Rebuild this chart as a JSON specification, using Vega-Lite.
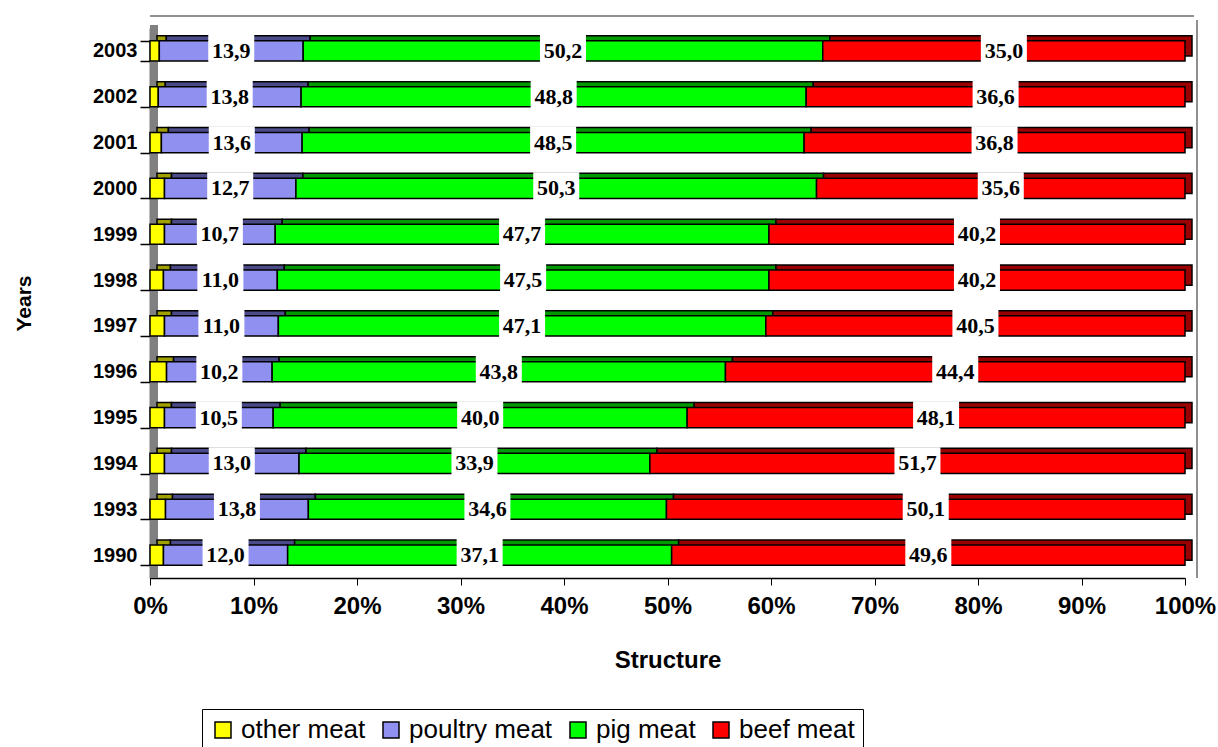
{
  "$schema": "https://vega.github.io/schema/vega-lite/v6.json",
  "width": 1035,
  "height": 550,
  "autosize": "none",
  "padding": {"left": 150, "top": 28, "right": 33, "bottom": 169},
  "background": "white",
  "config": {
    "locale": {"number": {"decimal": ",", "thousands": ".", "grouping": [3], "currency": ["", " €"]}},
    "view": {"stroke": null},
    "font": "Liberation Sans"
  },
  "data": {
    "values": [
      {"year": "2003", "meat": "other meat", "ord": 1, "value": 0.9},
      {"year": "2003", "meat": "poultry meat", "ord": 2, "value": 13.9},
      {"year": "2003", "meat": "pig meat", "ord": 3, "value": 50.2},
      {"year": "2003", "meat": "beef meat", "ord": 4, "value": 35.0},
      {"year": "2002", "meat": "other meat", "ord": 1, "value": 0.8},
      {"year": "2002", "meat": "poultry meat", "ord": 2, "value": 13.8},
      {"year": "2002", "meat": "pig meat", "ord": 3, "value": 48.8},
      {"year": "2002", "meat": "beef meat", "ord": 4, "value": 36.6},
      {"year": "2001", "meat": "other meat", "ord": 1, "value": 1.1},
      {"year": "2001", "meat": "poultry meat", "ord": 2, "value": 13.6},
      {"year": "2001", "meat": "pig meat", "ord": 3, "value": 48.5},
      {"year": "2001", "meat": "beef meat", "ord": 4, "value": 36.8},
      {"year": "2000", "meat": "other meat", "ord": 1, "value": 1.4},
      {"year": "2000", "meat": "poultry meat", "ord": 2, "value": 12.7},
      {"year": "2000", "meat": "pig meat", "ord": 3, "value": 50.3},
      {"year": "2000", "meat": "beef meat", "ord": 4, "value": 35.6},
      {"year": "1999", "meat": "other meat", "ord": 1, "value": 1.4},
      {"year": "1999", "meat": "poultry meat", "ord": 2, "value": 10.7},
      {"year": "1999", "meat": "pig meat", "ord": 3, "value": 47.7},
      {"year": "1999", "meat": "beef meat", "ord": 4, "value": 40.2},
      {"year": "1998", "meat": "other meat", "ord": 1, "value": 1.3},
      {"year": "1998", "meat": "poultry meat", "ord": 2, "value": 11.0},
      {"year": "1998", "meat": "pig meat", "ord": 3, "value": 47.5},
      {"year": "1998", "meat": "beef meat", "ord": 4, "value": 40.2},
      {"year": "1997", "meat": "other meat", "ord": 1, "value": 1.4},
      {"year": "1997", "meat": "poultry meat", "ord": 2, "value": 11.0},
      {"year": "1997", "meat": "pig meat", "ord": 3, "value": 47.1},
      {"year": "1997", "meat": "beef meat", "ord": 4, "value": 40.5},
      {"year": "1996", "meat": "other meat", "ord": 1, "value": 1.6},
      {"year": "1996", "meat": "poultry meat", "ord": 2, "value": 10.2},
      {"year": "1996", "meat": "pig meat", "ord": 3, "value": 43.8},
      {"year": "1996", "meat": "beef meat", "ord": 4, "value": 44.4},
      {"year": "1995", "meat": "other meat", "ord": 1, "value": 1.4},
      {"year": "1995", "meat": "poultry meat", "ord": 2, "value": 10.5},
      {"year": "1995", "meat": "pig meat", "ord": 3, "value": 40.0},
      {"year": "1995", "meat": "beef meat", "ord": 4, "value": 48.1},
      {"year": "1994", "meat": "other meat", "ord": 1, "value": 1.4},
      {"year": "1994", "meat": "poultry meat", "ord": 2, "value": 13.0},
      {"year": "1994", "meat": "pig meat", "ord": 3, "value": 33.9},
      {"year": "1994", "meat": "beef meat", "ord": 4, "value": 51.7},
      {"year": "1993", "meat": "other meat", "ord": 1, "value": 1.5},
      {"year": "1993", "meat": "poultry meat", "ord": 2, "value": 13.8},
      {"year": "1993", "meat": "pig meat", "ord": 3, "value": 34.6},
      {"year": "1993", "meat": "beef meat", "ord": 4, "value": 50.1},
      {"year": "1990", "meat": "other meat", "ord": 1, "value": 1.3},
      {"year": "1990", "meat": "poultry meat", "ord": 2, "value": 12.0},
      {"year": "1990", "meat": "pig meat", "ord": 3, "value": 37.1},
      {"year": "1990", "meat": "beef meat", "ord": 4, "value": 49.6}
    ]
  },
  "layer": [
    {
      "mark": {"type": "rule", "stroke": "#808080", "strokeWidth": 8, "xOffset": 4, "yOffset": -3},
      "encoding": {"x": {"datum": 0, "type": "quantitative"}}
    },
    {
      "mark": {"type": "rule", "stroke": "#909090", "strokeWidth": 2, "xOffset": 12, "yOffset": -8},
      "encoding": {"x": {"datum": 100, "type": "quantitative"}}
    },
    {
      "mark": {"type": "rule", "stroke": "#909090", "strokeWidth": 2, "xOffset": 9, "yOffset": -35},
      "encoding": {"y": {"datum": "2003", "type": "ordinal"}}
    },
    {
      "mark": {"type": "bar", "xOffset": 7, "yOffset": -5, "stroke": "black", "strokeWidth": 1.5},
      "encoding": {
        "y": {"field": "year", "type": "ordinal", "sort": "descending"},
        "x": {"field": "value", "type": "quantitative", "stack": "zero", "scale": {"domain": [0, 100]}},
        "fill": {
          "field": "ord",
          "type": "ordinal",
          "scale": {
            "domain": [1, 2, 3, 4],
            "range": ["#A0A000", "#4B4B8A", "#009A00", "#9A0000"]
          },
          "legend": null
        },
        "order": {"field": "ord", "type": "quantitative"}
      }
    },
    {
      "mark": {"type": "bar", "stroke": "black", "strokeWidth": 1.5},
      "encoding": {
        "y": {
          "field": "year",
          "type": "ordinal",
          "sort": "descending",
          "scale": {"paddingInner": 0.56, "paddingOuter": 0.28},
          "axis": {
            "title": "Years",
            "titleFontSize": 21,
            "titleFontWeight": "bold",
            "titlePadding": 58,
            "labelFontSize": 20,
            "labelFontWeight": "bold",
            "labelColor": "black",
            "labelPadding": 3,
            "tickSize": 10,
            "tickWidth": 1.5,
            "tickBand": "extent",
            "tickColor": "black",
            "domainColor": "black",
            "domainWidth": 1.5
          }
        },
        "x": {
          "field": "value",
          "type": "quantitative",
          "stack": "zero",
          "scale": {"domain": [0, 100]},
          "axis": {
            "values": [0, 10, 20, 30, 40, 50, 60, 70, 80, 90, 100],
            "labelExpr": "datum.value + '%'",
            "labelFlush": false,
            "labelOverlap": false,
            "grid": false,
            "title": "Structure",
            "titleFontSize": 24,
            "titleFontWeight": "bold",
            "titlePadding": 30,
            "labelFontSize": 24,
            "labelFontWeight": "bold",
            "labelColor": "black",
            "labelPadding": 9,
            "tickSize": 7,
            "tickColor": "black",
            "domainColor": "black",
            "domainWidth": 1.5
          }
        },
        "color": {
          "field": "meat",
          "type": "nominal",
          "sort": ["other meat", "poultry meat", "pig meat", "beef meat"],
          "scale": {
            "domain": ["other meat", "poultry meat", "pig meat", "beef meat"],
            "range": ["#FFFF00", "#9090F0", "#00FF00", "#FF0000"]
          },
          "legend": {
            "title": null,
            "orient": "none",
            "direction": "horizontal",
            "legendX": 52,
            "legendY": 681,
            "symbolType": "square",
            "symbolSize": 256,
            "symbolStrokeColor": "black",
            "symbolStrokeWidth": 1.5,
            "symbolOpacity": 1,
            "labelFontSize": 26,
            "labelColor": "black",
            "labelOffset": 5,
            "columnPadding": 12,
            "padding": 8,
            "strokeColor": "black",
            "fillColor": "white"
          }
        },
        "order": {"field": "ord", "type": "quantitative"}
      }
    },
    {
      "mark": {"type": "point", "shape": "M-1,-0.62H1V0.62H-1Z", "size": 2116, "filled": true, "fill": "white", "strokeWidth": 0, "yOffset": -2},
      "encoding": {
        "y": {"field": "year", "type": "ordinal", "sort": "descending"},
        "x": {"field": "value", "type": "quantitative", "stack": "zero", "bandPosition": 0.5},
        "detail": {"field": "meat"},
        "order": {"field": "ord", "type": "quantitative"},
        "opacity": {"condition": {"test": "datum.meat === 'other meat'", "value": 0}, "value": 1}
      }
    },
    {
      "mark": {"type": "text", "font": "Liberation Serif", "fontWeight": "bold", "fontSize": 22, "fill": "black", "baseline": "middle"},
      "encoding": {
        "y": {"field": "year", "type": "ordinal", "sort": "descending"},
        "x": {"field": "value", "type": "quantitative", "stack": "zero", "bandPosition": 0.5},
        "detail": {"field": "meat"},
        "order": {"field": "ord", "type": "quantitative"},
        "text": {
          "condition": {"test": "datum.meat === 'other meat'", "value": ""},
          "field": "value",
          "type": "quantitative",
          "format": ".1f"
        }
      }
    }
  ]
}
